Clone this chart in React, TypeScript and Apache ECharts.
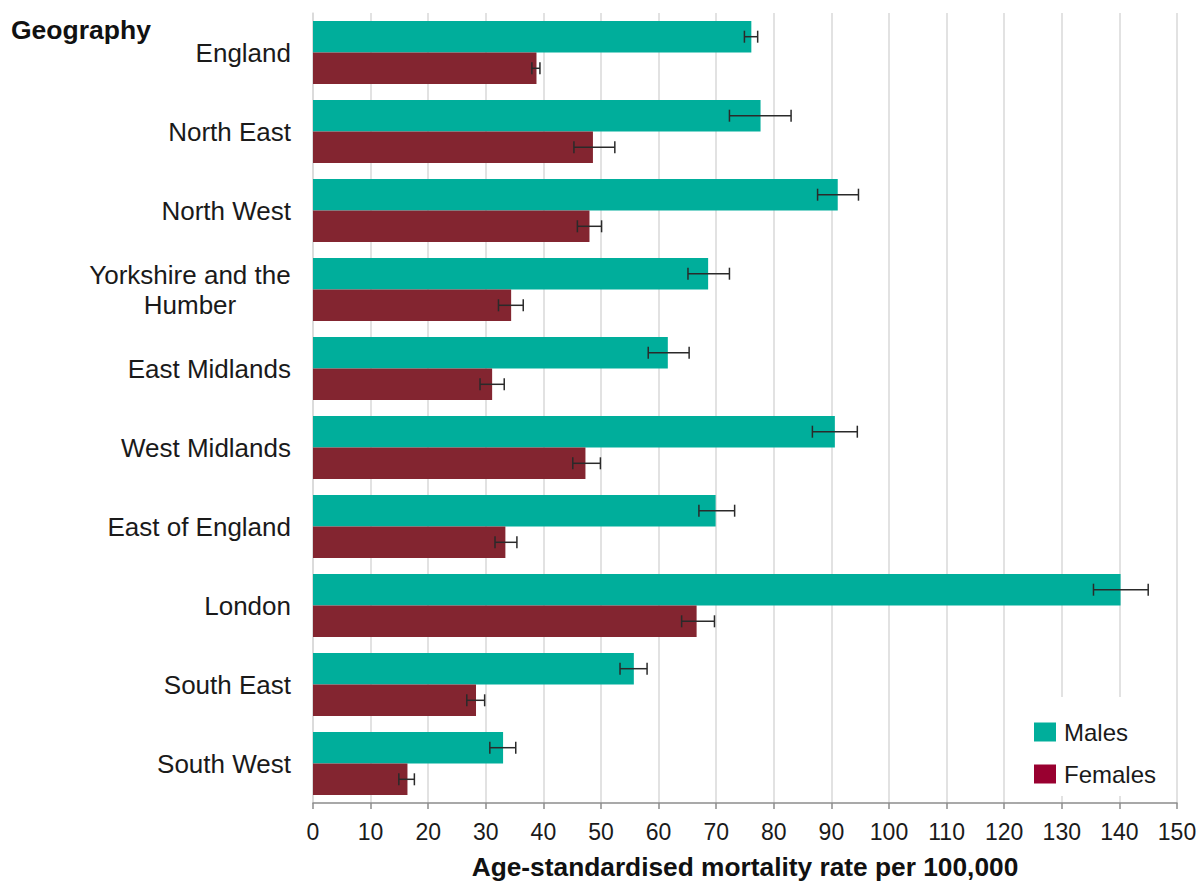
import React, { useEffect, useRef } from "react";
import * as echarts from "echarts";

const categories = [
  "England",
  "North East",
  "North West",
  "Yorkshire and the Humber",
  "East Midlands",
  "West Midlands",
  "East of England",
  "London",
  "South East",
  "South West",
];

const males = [76.1, 77.7, 91.1, 68.6, 61.6, 90.6, 69.9, 140.2, 55.7, 33.0];
const malesLow = [74.9, 72.3, 87.6, 65.1, 58.2, 86.7, 67.0, 135.5, 53.3, 30.7];
const malesHigh = [77.2, 83.0, 94.7, 72.3, 65.3, 94.5, 73.2, 145.0, 58.0, 35.2];

const females = [38.8, 48.6, 48.0, 34.4, 31.1, 47.3, 33.4, 66.6, 28.3, 16.4];
const femalesLow = [38.0, 45.3, 45.9, 32.2, 29.0, 45.1, 31.6, 64.0, 26.7, 14.9];
const femalesHigh = [39.4, 52.4, 50.1, 36.5, 33.2, 49.9, 35.4, 69.7, 29.8, 17.6];

const xTicks = { min: 0, max: 150, interval: 10 };

const MALE_COLOR = "#00AE9B";
const FEMALE_COLOR = "#832530";
const FEMALE_LEGEND = "#990030";
const FONT = "'Liberation Sans', Arial, sans-serif";

function errorSeries(name: string, lo: number[], hi: number[], offsetSign: number) {
  const data = lo.map((l, i) => [l, hi[i], i]);
  return {
    type: "custom",
    name: name,
    silent: true,
    z: 10,
    encode: { x: [0, 1], y: 2 },
    data,
    renderItem: (params: any, api: any) => {
      const cat = api.value(2);
      const p1 = api.coord([api.value(0), cat]);
      const p2 = api.coord([api.value(1), cat]);
      const band = api.size([0, 1])[1];
      const y = p1[1] + offsetSign * band * 0.2;
      const cap = 6;
      const style = { stroke: "#2a2a2a", lineWidth: 1.5 };
      return {
        type: "group",
        children: [
          { type: "line", shape: { x1: p1[0], y1: y, x2: p2[0], y2: y }, style },
          { type: "line", shape: { x1: p1[0], y1: y - cap, x2: p1[0], y2: y + cap }, style },
          { type: "line", shape: { x1: p2[0], y1: y - cap, x2: p2[0], y2: y + cap }, style },
        ],
      };
    },
  };
}

export default function App() {
  const ref = useRef<HTMLDivElement>(null);

  useEffect(() => {
    if (!ref.current) return;
    const chart = echarts.init(ref.current, null, { renderer: "svg" });
    chart.setOption({
      animation: false,
      backgroundColor: "#ffffff",
      textStyle: { fontFamily: FONT },
      title: {
        text: "Geography",
        left: 6,
        top: 11,
        textStyle: { fontFamily: FONT, fontSize: 26.5, fontWeight: "bold", color: "#111" },
      },
      legend: {
        orient: "vertical",
        left: 1024,
        top: 697,
        padding: [23, 12, 10, 10],
        backgroundColor: "#ffffff",
        itemWidth: 22,
        itemHeight: 19,
        itemGap: 18,
        icon: "rect",
        textStyle: { fontFamily: FONT, fontSize: 24, color: "#1a1a1a", padding: [0, 0, 0, 3] },
        data: [
          { name: "Males", itemStyle: { color: MALE_COLOR } },
          { name: "Females", itemStyle: { color: FEMALE_LEGEND } },
        ],
      },
      grid: { left: 313, right: 24, top: 13, bottom: 78, containLabel: false },
      xAxis: {
        type: "value",
        min: xTicks.min,
        max: xTicks.max,
        interval: xTicks.interval,
        name: "Age-standardised mortality rate per 100,000",
        nameLocation: "middle",
        nameGap: 51,
        nameTextStyle: { fontFamily: FONT, fontSize: 26.3, fontWeight: "bold", color: "#111", verticalAlign: "top" },
        axisLine: { show: true, lineStyle: { color: "#8c8c8c", width: 1.5 } },
        axisTick: { show: true, length: 6, lineStyle: { color: "#8c8c8c", width: 1.5 } },
        axisLabel: { fontFamily: FONT, fontSize: 23, color: "#1a1a1a", margin: 17 },
        splitLine: { show: true, lineStyle: { color: "#d9d9d9", width: 1.5 } },
      },
      yAxis: {
        type: "category",
        inverse: true,
        data: categories,
        axisLine: { show: true, lineStyle: { color: "#d9d9d9", width: 1.5 } },
        axisTick: { show: false },
        axisLabel: {
          fontFamily: FONT,
          fontSize: 26,
          color: "#1a1a1a",
          margin: 22,
          lineHeight: 30,
          formatter: (v: string) =>
            v === "Yorkshire and the Humber" ? "{c|Yorkshire and the}\n{c|Humber}" : v,
          rich: {
            c: { fontFamily: FONT, fontSize: 26, color: "#1a1a1a", width: 202, align: "center", lineHeight: 30 },
          },
        },
        splitLine: { show: false },
      },
      series: [
        {
          name: "Males",
          type: "bar",
          data: males,
          barGap: "0%",
          barCategoryGap: "20%",
          itemStyle: { color: MALE_COLOR },
        },
        {
          name: "Females",
          type: "bar",
          data: females,
          barGap: "0%",
          barCategoryGap: "20%",
          itemStyle: { color: FEMALE_COLOR },
        },
        errorSeries("Males", malesLow, malesHigh, -1),
        errorSeries("Females", femalesLow, femalesHigh, 1),
      ],
    });
    return () => chart.dispose();
  }, []);

  return (
    <div
      ref={ref}
      style={{ position: "fixed", left: 0, top: 0, width: 1201, height: 885 }}
    />
  );
}
